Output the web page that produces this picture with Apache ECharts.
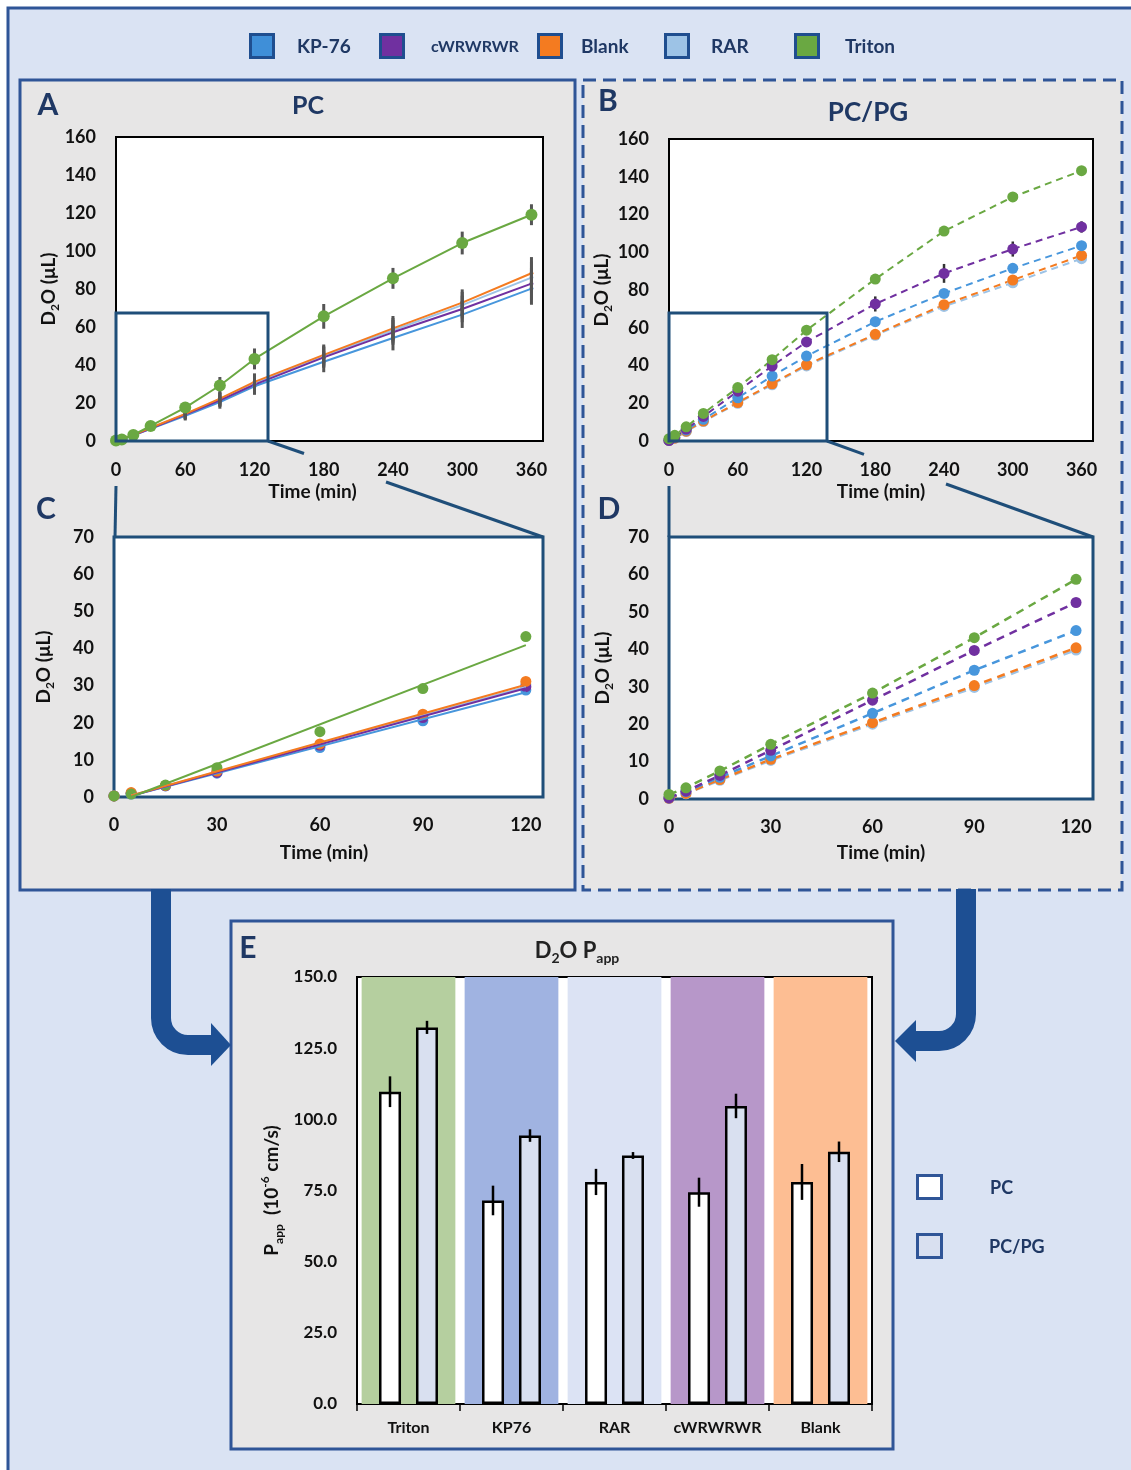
<!DOCTYPE html>
<html><head><meta charset="utf-8">
<script src="https://cdn.jsdelivr.net/npm/echarts@6/dist/echarts.min.js"></script>
<style>html,body{margin:0;padding:0;background:#fff}#c{width:1131px;height:1470px}</style>
</head><body><div id="c"></div>
<script>
// ---------------- DATA ----------------
const timesFull = [0, 5, 15, 30, 60, 90, 120, 180, 240, 300, 360];
const zoomCount = 7; // points up to 120 min shown in zoom panels
const timeTicksAB = [0, 60, 120, 180, 240, 300, 360];
const timeTicksCD = [0, 30, 60, 90, 120];

// PC membranes (panels A, C)
const pcKP76   = [0.3, 0.8, 3.0, 6.4, 13.3, 20.5, 28.8, 41.7, 54.2, 66.5, 80.2];
const pcRAR    = [0.3, 1.1, 3.0, 6.8, 14.0, 21.8, 30.3, 44.6, 58.3, 71.5, 86.0];
const pcCW     = [0.3, 1.0, 3.0, 6.6, 13.9, 21.4, 29.7, 44.0, 57.2, 69.5, 82.8];
const pcBlank  = [0.3, 1.2, 3.1, 7.0, 14.3, 22.3, 31.1, 45.3, 59.3, 72.8, 88.3];
const pcTriton = [0.3, 0.8, 3.2, 7.9, 17.6, 29.2, 43.2, 65.6, 85.6, 104.2, 119.1];
const pcErrOther  = [0, 0, 0.5, 1.0, 2.5, 3.5, 4.5, 5.5, 6.5, 7.0, 8.5];
const pcErrTriton = [0, 0.3, 0.5, 1.0, 2.5, 4.5, 5.5, 6.5, 5.5, 6.0, 5.5];
// linear fits shown in panel C (start 5 min, end 120 min)
const trendT = [5, 120];
const trendKP76   = [0.3, 28.2];
const trendRAR    = [0.4, 29.6];
const trendCW     = [0.3, 29.3];
const trendBlank  = [0.4, 30.2];
const trendTriton = [0.0, 40.9];

// PC/PG membranes (panels B, D)
const pgKP76   = [0.3, 2.0, 5.8, 11.5, 22.9, 34.4, 45.0, 63.2, 78.2, 91.5, 103.5];
const pgRAR    = [0.2, 1.4, 5.0, 10.3, 20.0, 29.8, 39.8, 56.0, 71.3, 83.8, 96.6];
const pgCW     = [0.3, 2.1, 6.3, 13.0, 26.4, 39.7, 52.5, 72.6, 88.8, 101.7, 113.4];
const pgBlank  = [0.2, 1.5, 5.2, 10.6, 20.4, 30.3, 40.4, 56.5, 72.2, 85.3, 98.3];
const pgTriton = [1.2, 3.0, 7.5, 14.6, 28.3, 43.1, 58.7, 85.8, 111.2, 129.3, 143.2];
const pgErrCW    = [0, 0, 0.5, 1.0, 1.5, 2.0, 2.5, 4.0, 5.0, 4.0, 3.0];
const pgErrOther = [0, 0, 0.5, 0.8, 1.0, 1.2, 1.5, 2.0, 2.0, 2.0, 2.0];

// Panel E
const eCategories = ['Triton', 'KP76', 'RAR', 'cWRWRWR', 'Blank'];
const pappPC      = [109.7, 71.5, 78.0, 74.4, 78.0];
const pappPCErr   = [5.4, 5.2, 4.6, 5.1, 6.3];
const pappPG      = [132.3, 94.3, 87.3, 104.7, 88.6];
const pappPGErr   = [2.3, 2.2, 1.2, 4.3, 3.6];
const bandTop     = [150, 150, 150, 150, 150];
const eTicks      = [0, 25, 50, 75, 100, 125, 150];

const legendNames = ['KP-76', 'cWRWRWR', 'Blank', 'RAR', 'Triton'];

// ---------------- STYLE ----------------
const F = 'Lato, "Open Sans", sans-serif';
const NAVY = '#1f3864';
const FRAME = '#2f5597';
const ZOOMC = '#1f4e79';
const ARROW = '#1d4f93';
const COL = {kp: '#4796dc', rar: '#9dc3e6', cw: '#7030a0', blank: '#f47b20', triton: '#6aa842'};
const bandColors = ['#b5cf9f', '#a0b3e1', '#dce3f4', '#b797c9', '#fdbe93'];
const legendColors = ['#3f8fd8', '#7030a0', '#f47b20', '#9dc3e6', '#6aa842'];

const zip = (xs, ys) => xs.map((x, i) => [x, ys[i]]);

const labelStyle = {color: '#111', fontFamily: F, fontWeight: 'bold', fontSize: 18};
const yNameRich = {
  a: {fontSize: 19, fontWeight: 'bold', fontFamily: F, color: '#111', lineHeight: 24},
  s: {fontSize: 12, fontWeight: 'bold', fontFamily: F, color: '#111', verticalAlign: 'bottom'}
};
function xAxisTime(grid, max, step, namePad, nameGap, margin) {
  return {
    type: 'value', gridIndex: grid, min: 0, max: max, interval: step,
    axisLine: {show: false}, axisTick: {show: false}, splitLine: {show: false},
    axisLabel: Object.assign({margin: margin, formatter: v => (v % step === 0 ? String(v) : '')}, labelStyle),
    name: 'Time (min)', nameLocation: 'middle', nameGap: nameGap,
    nameTextStyle: {color: '#111', fontFamily: F, fontWeight: 'bold', fontSize: 19, padding: [0, namePad, 0, 0]}
  };
}
function yAxisD2O(grid, max, step, nameGap) {
  return {
    type: 'value', gridIndex: grid, min: 0, max: max, interval: step,
    axisLine: {show: false}, axisTick: {show: false}, splitLine: {show: false},
    axisLabel: Object.assign({margin: 20}, labelStyle),
    name: '{a|D}{s|2}{a|O (μL)}', nameLocation: 'middle', nameGap: nameGap, nameRotate: 90,
    nameTextStyle: {rich: yNameRich}
  };
}
function errSeries(xi, yi, times, vals, errs, color, width, z) {
  const data = [];
  times.forEach((t, i) => { if (errs[i] > 0) data.push([t, vals[i] - errs[i], vals[i] + errs[i]]); });
  return {
    type: 'custom', xAxisIndex: xi, yAxisIndex: yi, z: z, silent: true,
    encode: {x: 0, y: [1, 2]}, data: data,
    renderItem: (params, api) => {
      const p1 = api.coord([api.value(0), api.value(1)]);
      const p2 = api.coord([api.value(0), api.value(2)]);
      return {type: 'line', shape: {x1: p1[0], y1: p1[1], x2: p2[0], y2: p2[1]},
              style: {stroke: color, lineWidth: width}};
    }
  };
}

const pcSets = [
  {name: 'KP-76', c: COL.kp, v: pcKP76, tr: trendKP76},
  {name: 'RAR', c: COL.rar, v: pcRAR, tr: trendRAR},
  {name: 'cWRWRWR', c: COL.cw, v: pcCW, tr: trendCW},
  {name: 'Blank', c: COL.blank, v: pcBlank, tr: trendBlank},
  {name: 'Triton', c: COL.triton, v: pcTriton, tr: trendTriton}
];
const pgSets = [
  {name: 'RAR', c: COL.rar, v: pgRAR, e: pgErrOther},
  {name: 'Blank', c: COL.blank, v: pgBlank, e: pgErrOther},
  {name: 'KP-76', c: COL.kp, v: pgKP76, e: pgErrOther},
  {name: 'cWRWRWR', c: COL.cw, v: pgCW, e: pgErrCW},
  {name: 'Triton', c: COL.triton, v: pgTriton, e: pgErrOther}
];

const series = [];
// Panel A
pcSets.forEach(s => {
  const isT = s.name === 'Triton';
  series.push({type: 'line', xAxisIndex: 0, yAxisIndex: 0, name: s.name, z: isT ? 4 : 2,
    data: zip(timesFull, s.v), symbol: 'circle', symbolSize: isT ? 12 : 4, showSymbol: true,
    itemStyle: {color: s.c}, lineStyle: {color: s.c, width: 2}, silent: true});
});
pcSets.forEach(s => {
  const isT = s.name === 'Triton';
  series.push(errSeries(0, 0, timesFull, s.v, isT ? pcErrTriton : pcErrOther, '#555', 3, 3));
});
// Panel C
pcSets.forEach(s => {
  series.push({type: 'scatter', xAxisIndex: 2, yAxisIndex: 2, z: 2, silent: true,
    data: zip(timesFull.slice(0, zoomCount), s.v.slice(0, zoomCount)),
    symbolSize: 11, itemStyle: {color: s.c, opacity: 1}});
});
pcSets.forEach(s => {
  series.push({type: 'line', xAxisIndex: 2, yAxisIndex: 2, z: 3, silent: true,
    data: zip(trendT, s.tr), symbol: 'none', lineStyle: {color: s.c, width: 2}});
});
// Panel B
pgSets.forEach(s => {
  series.push(errSeries(1, 1, timesFull, s.v, s.e, '#333', 2.5, 1));
  series.push({type: 'line', xAxisIndex: 1, yAxisIndex: 1, z: 2, silent: true,
    data: zip(timesFull, s.v), symbol: 'circle', symbolSize: 11,
    itemStyle: {color: s.c}, lineStyle: {color: s.c, width: 2, type: [7, 5]}});
});
// Panel D
pgSets.forEach(s => {
  series.push({type: 'line', xAxisIndex: 3, yAxisIndex: 3, z: 2, silent: true,
    data: zip(timesFull.slice(0, zoomCount), s.v.slice(0, zoomCount)), symbol: 'circle', symbolSize: 11,
    itemStyle: {color: s.c}, lineStyle: {color: s.c, width: 2.5, type: [8, 6]}});
});
// Panel E
series.push({type: 'bar', xAxisIndex: 5, yAxisIndex: 4, z: 1, silent: true, barWidth: '91%',
  data: bandTop.map((v, i) => ({value: v, itemStyle: {color: bandColors[i]}}))});
series.push({type: 'bar', xAxisIndex: 4, yAxisIndex: 4, z: 3, silent: true, name: 'PC',
  data: pappPC, barWidth: 22, barGap: '68%',
  itemStyle: {color: '#ffffff', borderColor: '#000', borderWidth: 2.5}});
series.push({type: 'bar', xAxisIndex: 4, yAxisIndex: 4, z: 3, silent: true, name: 'PC/PG',
  data: pappPG, barWidth: 22, barGap: '68%',
  itemStyle: {color: '#d9e0f0', borderColor: '#000', borderWidth: 2.5}});
function eErr(vals, errs, offset) {
  return {type: 'custom', xAxisIndex: 4, yAxisIndex: 4, z: 5, silent: true,
    data: vals.map((v, i) => [i, v - errs[i], v + errs[i]]),
    renderItem: (params, api) => {
      const p1 = api.coord([api.value(0), api.value(1)]);
      const p2 = api.coord([api.value(0), api.value(2)]);
      return {type: 'line', shape: {x1: p1[0] + offset, y1: p1[1], x2: p2[0] + offset, y2: p2[1]},
              style: {stroke: '#000', lineWidth: 2.5}};
    }};
}
series.push(eErr(pappPC, pappPCErr, -18.5));
series.push(eErr(pappPG, pappPGErr, 18.5));

// ---------------- GRAPHICS ----------------
const g = [];
g.push({type: 'rect', z: -10, shape: {x: 8, y: 8, width: 1140, height: 1480}, style: {fill: '#dae3f3', stroke: FRAME, lineWidth: 3}});
g.push({type: 'rect', z: -9, shape: {x: 20, y: 80, width: 555, height: 810}, style: {fill: '#e7e6e6', stroke: FRAME, lineWidth: 3}});
g.push({type: 'rect', z: -9, shape: {x: 583, y: 80, width: 539, height: 810}, style: {fill: '#e7e6e6', stroke: FRAME, lineWidth: 3, lineDash: [13, 7]}});
g.push({type: 'rect', z: -9, shape: {x: 231, y: 921, width: 662, height: 528}, style: {fill: '#e7e6e6', stroke: FRAME, lineWidth: 3}});

// top legend
const legX = [249, 379, 537, 664, 794];
const legTX = [297, 431, 581, 711, 845];
legendNames.forEach((n, i) => {
  g.push({type: 'rect', z: 10, shape: {x: legX[i] + 1.5, y: 34.5, width: 23, height: 23},
    style: {fill: legendColors[i], stroke: '#1f4e8f', lineWidth: 3}});
  g.push({type: 'text', z: 10, x: legTX[i], y: 47,
    style: {text: n, fill: NAVY, font: 'bold ' + (n === 'cWRWRWR' ? 16 : 19) + 'px ' + F, textVerticalAlign: 'middle'}});
});
// panel letters and titles
[['A', 48, 105], ['B', 608, 101], ['C', 46, 509], ['D', 609, 509], ['E', 248, 948]].forEach(l => {
  g.push({type: 'text', z: 10, x: l[1], y: l[2], style: {text: l[0], fill: NAVY, font: 'bold 30px ' + F, textAlign: 'center', textVerticalAlign: 'middle'}});
});
g.push({type: 'text', z: 10, x: 308, y: 106, style: {text: 'PC', fill: NAVY, font: 'bold 25px ' + F, textAlign: 'center', textVerticalAlign: 'middle'}});
g.push({type: 'text', z: 10, x: 868, y: 113, style: {text: 'PC/PG', fill: NAVY, font: 'bold 26px ' + F, textAlign: 'center', textVerticalAlign: 'middle'}});
g.push({type: 'text', z: 10, x: 577, y: 951, style: {
  text: '{a|D}{s|2}{a|O P}{s|app}', align: 'center', verticalAlign: 'middle',
  rich: {a: {fontSize: 22, fontWeight: 'bold', fontFamily: F, fill: '#222', lineHeight: 28},
         s: {fontSize: 14, fontWeight: 'bold', fontFamily: F, fill: '#222', verticalAlign: 'bottom'}}}});
// right legend of E
g.push({type: 'rect', z: 10, shape: {x: 917.5, y: 1175.5, width: 24, height: 23}, style: {fill: '#ffffff', stroke: FRAME, lineWidth: 3}});
g.push({type: 'rect', z: 10, shape: {x: 917.5, y: 1234.5, width: 24, height: 23}, style: {fill: '#d9e0f0', stroke: FRAME, lineWidth: 3}});
g.push({type: 'text', z: 10, x: 990, y: 1188, style: {text: 'PC', fill: NAVY, font: 'bold 18px ' + F, textVerticalAlign: 'middle'}});
g.push({type: 'text', z: 10, x: 989, y: 1247, style: {text: 'PC/PG', fill: NAVY, font: 'bold 18px ' + F, textVerticalAlign: 'middle'}});
// zoom boxes and connectors
g.push({type: 'rect', z: 100, shape: {x: 116, y: 313, width: 152, height: 128}, style: {fill: null, stroke: ZOOMC, lineWidth: 3}});
g.push({type: 'rect', z: 100, shape: {x: 669, y: 313, width: 158, height: 128}, style: {fill: null, stroke: ZOOMC, lineWidth: 3}});
[[268, 441, 304, 453.5], [386, 482, 543, 537], [116, 486, 115, 537],
 [827, 441, 864, 454.4], [946, 484, 1093, 537], [669, 486, 669, 537]].forEach(s => {
  g.push({type: 'line', z: 100, shape: {x1: s[0], y1: s[1], x2: s[2], y2: s[3]}, style: {stroke: ZOOMC, lineWidth: 3}});
});
// arrows
const arrowStyle = {fill: null, stroke: ARROW, lineWidth: 20};
g.push({type: 'line', z: 5, shape: {x1: 161, y1: 889, x2: 161, y2: 1018}, style: arrowStyle});
g.push({type: 'arc', z: 5, shape: {cx: 188, cy: 1018, r: 27, startAngle: Math.PI, endAngle: Math.PI / 2, clockwise: false}, style: arrowStyle});
g.push({type: 'line', z: 5, shape: {x1: 188, y1: 1045, x2: 214, y2: 1045}, style: arrowStyle});
g.push({type: 'polygon', z: 5, shape: {points: [[211, 1023], [231, 1045], [211, 1066]]}, style: {fill: ARROW}});
g.push({type: 'line', z: 5, shape: {x1: 966, y1: 889, x2: 966, y2: 1014}, style: arrowStyle});
g.push({type: 'arc', z: 5, shape: {cx: 939, cy: 1014, r: 27, startAngle: 0, endAngle: Math.PI / 2, clockwise: true}, style: arrowStyle});
g.push({type: 'line', z: 5, shape: {x1: 939, y1: 1041, x2: 913, y2: 1041}, style: arrowStyle});
g.push({type: 'polygon', z: 5, shape: {points: [[916, 1020], [895, 1041], [916, 1062]]}, style: {fill: ARROW}});

// ---------------- OPTION ----------------
const chart = echarts.init(document.getElementById('c'), null, {renderer: 'canvas'});
const gridBase = {show: true, backgroundColor: '#ffffff', containLabel: false};
chart.setOption({
  backgroundColor: '#ffffff',
  animation: false,
  grid: [
    Object.assign({left: 116, top: 137, width: 427, height: 304, borderColor: '#000', borderWidth: 2}, gridBase),
    Object.assign({left: 669, top: 139, width: 424, height: 302, borderColor: '#000', borderWidth: 2}, gridBase),
    Object.assign({left: 114, top: 537, width: 429, height: 260, borderColor: ZOOMC, borderWidth: 3}, gridBase),
    Object.assign({left: 669, top: 537, width: 424, height: 262, borderColor: ZOOMC, borderWidth: 3}, gridBase),
    Object.assign({left: 357, top: 977, width: 515, height: 427, borderColor: '#000', borderWidth: 2}, gridBase)
  ],
  xAxis: [
    xAxisTime(0, 370, timeTicksAB[1] - timeTicksAB[0], 34, 41, 20),
    xAxisTime(1, 370, timeTicksAB[1] - timeTicksAB[0], 0, 41, 20),
    xAxisTime(2, 125, timeTicksCD[1] - timeTicksCD[0], 9, 46, 19),
    xAxisTime(3, 125, timeTicksCD[1] - timeTicksCD[0], 0, 44, 19),
    {type: 'category', gridIndex: 4, data: eCategories,
     axisLine: {lineStyle: {color: '#000', width: 2}},
     axisTick: {show: true, interval: 0, length: 7, lineStyle: {color: '#000', width: 1.5}},
     axisLabel: {interval: 0, color: '#111', fontFamily: F, fontWeight: 'bold', fontSize: 16, margin: 16}},
    {type: 'category', gridIndex: 4, data: eCategories, show: false}
  ],
  yAxis: [
    yAxisD2O(0, 160, 20, 55),
    yAxisD2O(1, 160, 20, 48),
    yAxisD2O(2, 70, 10, 58),
    yAxisD2O(3, 70, 10, 54),
    {type: 'value', gridIndex: 4, min: eTicks[0], max: eTicks[eTicks.length - 1], interval: eTicks[1] - eTicks[0],
     axisLine: {show: false}, axisTick: {show: false}, splitLine: {show: false},
     axisLabel: {color: '#111', fontFamily: F, fontWeight: 'bold', fontSize: 17, margin: 20, formatter: v => v.toFixed(1)},
     name: '{a|P}{s|app}{a|  (10}{p|-6}{a| cm/s)}', nameLocation: 'middle', nameGap: 72, nameRotate: 90,
     nameTextStyle: {rich: {
       a: {fontSize: 19, fontWeight: 'bold', fontFamily: F, color: '#111', lineHeight: 26},
       s: {fontSize: 12, fontWeight: 'bold', fontFamily: F, color: '#111', verticalAlign: 'bottom'},
       p: {fontSize: 12, fontWeight: 'bold', fontFamily: F, color: '#111', verticalAlign: 'top'}}}}
  ],
  series: series,
  graphic: {elements: g}
});
</script></body></html>
